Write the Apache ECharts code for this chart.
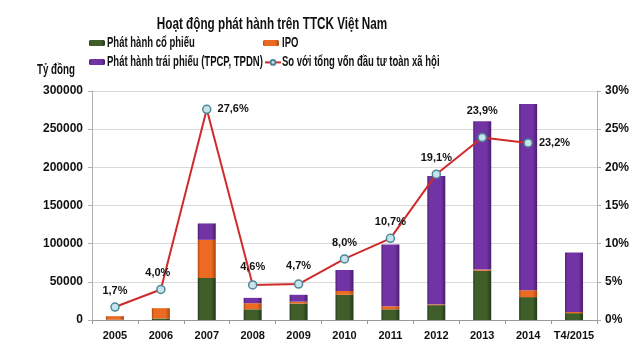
<!DOCTYPE html>
<html><head><meta charset="utf-8">
<script src="https://cdn.jsdelivr.net/npm/echarts@6/dist/echarts.min.js"></script>
<style>html,body{margin:0;padding:0;background:#fff}#c{width:640px;height:357px}</style>
</head><body><div id="c"></div>
<script>
const categories = ['2005','2006','2007','2008','2009','2010','2011','2012','2013','2014','T4/2015'];
const coPhieu = [500, 2000, 55000, 14000, 21500, 33000, 14000, 19500, 64500, 30000, 9000];
const ipo = [4500, 13500, 50000, 8000, 2500, 5000, 4000, 1000, 1500, 9000, 1500];
const traiPhieu = [0, 0, 21500, 7000, 9000, 27500, 81000, 168000, 194500, 244000, 78000];
const tyLe = [1.7, 4.0, 27.6, 4.6, 4.7, 8.0, 10.7, 19.1, 23.9, 23.2, null];
const seriesNames = ['Phát hành cổ phiếu', 'IPO', 'Phát hành trái phiếu (TPCP, TPDN)', 'So với tổng vốn đầu tư toàn xã hội'];
const titleText = 'Hoạt động phát hành trên TTCK Việt Nam';
const unitText = 'Tỷ đồng';
const leftTicks = {min: 0, max: 300000, interval: 50000};
const rightTicks = {min: 0, max: 30, interval: 5};

const FONT = 'Liberation Sans';
const labelPos = ['top','top','right','top','top','top','top','top','top','right','top'];
const labelOff = [[0,0],[-3,0],[0,0],[0,-2],[0,-2],[0,0],[0,0],[0,0],[0,-10],[0,0],[0,0]];

const lineData = tyLe.map((v,i) => ({
  value: v,
  label: {position: labelPos[i], offset: labelOff[i]}
}));

function ctext(str, x, y, size, sx, align) {
  return {
    type: 'text', x: x, y: y, scaleX: sx, z: 10,
    style: {text: str, font: 'bold ' + size + 'px ' + FONT, fill: '#111',
            align: align || 'left', verticalAlign: 'middle',
            textAlign: align || 'left', textVerticalAlign: 'middle'}
  };
}
function barGrad(base, dark) {
  return new echarts.graphic.LinearGradient(0, 0, 1, 0, [
    {offset: 0, color: dark}, {offset: 0.12, color: base},
    {offset: 0.75, color: base}, {offset: 1, color: dark}
  ]);
}
const legendBase = {itemWidth: 16, itemHeight: 6, itemGap: 0, padding: 0,
                    formatter: () => '', textStyle: {fontSize: 1}};

const chart = echarts.init(document.getElementById('c'), null, {renderer: 'canvas'});
chart.setOption({
  animation: false,
  backgroundColor: '#fff',
  legend: [
    Object.assign({left: 89, top: 40, data: [seriesNames[0]]}, legendBase),
    Object.assign({left: 263, top: 40, data: [seriesNames[1]]}, legendBase),
    Object.assign({left: 89, top: 59, data: [seriesNames[2]]}, legendBase),
    Object.assign({left: 264, top: 59, data: [seriesNames[3]]}, legendBase)
  ],
  graphic: [
    ctext(titleText, 272, 24, 17, 0.69, 'center'),
    ctext(seriesNames[0], 107, 43, 14, 0.68),
    ctext(seriesNames[1], 282, 43, 14, 0.68),
    ctext(seriesNames[2], 107, 62, 14, 0.68),
    ctext(seriesNames[3], 282, 62, 14, 0.68),
    ctext(unitText, 37, 70, 15, 0.65)
  ],
  grid: {left: 92, right: 43, top: 91, bottom: 37},
  xAxis: {
    type: 'category', data: categories,
    axisLine: {lineStyle: {color: '#9a9a9a'}},
    axisTick: {show: true, length: 4, lineStyle: {color: '#9a9a9a'}},
    axisLabel: {interval: 0, fontFamily: FONT, fontSize: 11, fontWeight: 'bold', color: '#111', margin: 10}
  },
  yAxis: [
    {type: 'value', min: leftTicks.min, max: leftTicks.max, interval: leftTicks.interval,
     axisLine: {show: true, lineStyle: {color: '#b0b0b0'}},
     axisTick: {show: true, length: 4, lineStyle: {color: '#b0b0b0'}},
     splitLine: {lineStyle: {color: '#d9d9d9'}},
     axisLabel: {fontFamily: FONT, fontSize: 12, fontWeight: 'bold', color: '#111', margin: 9,
                 formatter: v => String(v)}},
    {type: 'value', min: rightTicks.min, max: rightTicks.max, interval: rightTicks.interval,
     axisLine: {show: true, lineStyle: {color: '#b0b0b0'}},
     axisTick: {show: true, length: 4, lineStyle: {color: '#b0b0b0'}},
     splitLine: {show: false},
     axisLabel: {fontFamily: FONT, fontSize: 12, fontWeight: 'bold', color: '#111', margin: 8,
                 formatter: '{value}%'}}
  ],
  series: [
    {name: seriesNames[0], type: 'bar', stack: 'a', barWidth: 18, data: coPhieu,
     itemStyle: {color: barGrad('#3f5e29', '#24381a')}},
    {name: seriesNames[1], type: 'bar', stack: 'a', barWidth: 18, data: ipo,
     itemStyle: {color: barGrad('#ec6a22', '#a8470f')}},
    {name: seriesNames[2], type: 'bar', stack: 'a', barWidth: 18, data: traiPhieu,
     itemStyle: {color: barGrad('#7234a4', '#4a1c6e')}},
    {name: seriesNames[3], type: 'line', yAxisIndex: 1, data: lineData,
     connectNulls: false, symbol: 'circle', symbolSize: 8,
     lineStyle: {color: '#d02a2a', width: 2},
     itemStyle: {color: '#c7e4ec', borderColor: '#4f8796', borderWidth: 1.5},
     label: {show: true, distance: 6, fontFamily: FONT, fontSize: 11, fontWeight: 'bold', color: '#111',
             formatter: p => p.value == null ? '' : p.value.toFixed(1).replace('.', ',') + '%'},
     z: 5}
  ]
});
</script>
</body></html>
